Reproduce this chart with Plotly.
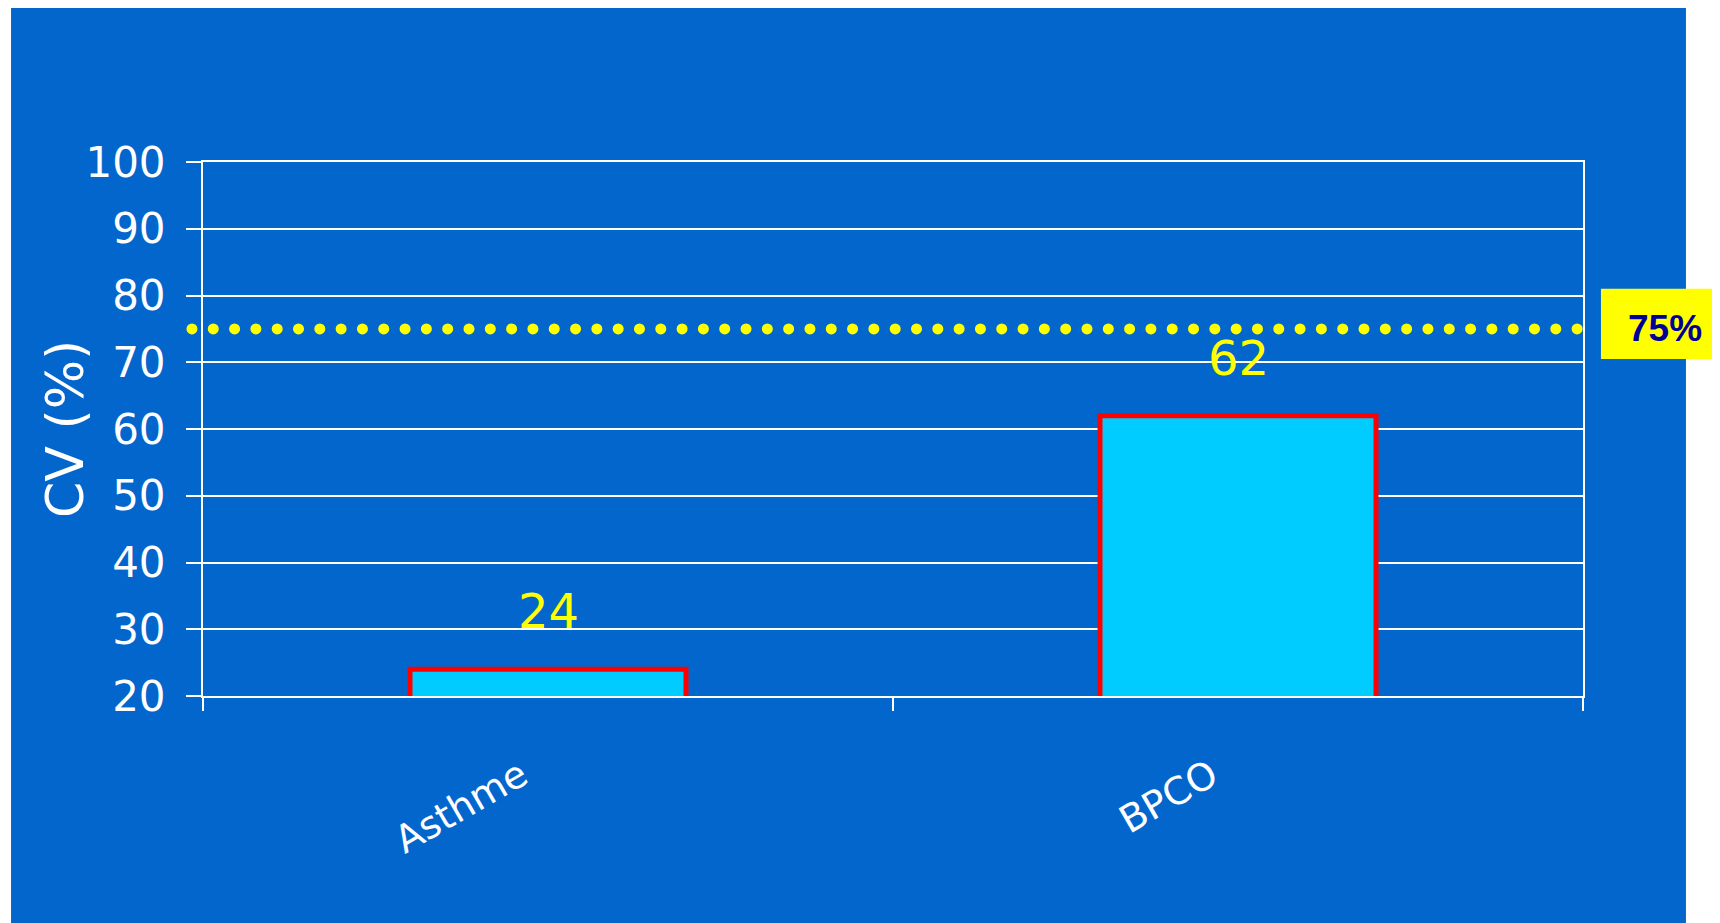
import plotly.graph_objects as go

categories = ["Asthme", "BPCO"]
cv_values = [24, 62]
y_ticks = [20, 30, 40, 50, 60, 70, 80, 90, 100]
threshold = 75
threshold_label = "75%"
y_title = "CV (%)"

BLUE = "#0366CC"
FONT = "DejaVu Sans"

fig = go.Figure()
fig.add_trace(go.Bar(
    x=categories, y=cv_values, base=0, width=0.4,
    marker=dict(color="#00CCFF", line=dict(color="#FF0000", width=5)),
    hoverinfo="skip", showlegend=False,
))

# value labels
for c, v in zip(categories, cv_values):
    fig.add_annotation(x=c, y=v, xref="x", yref="y", text=str(v), showarrow=False,
                       yanchor="bottom", yshift=28,
                       font=dict(family=FONT, size=48, color="#FFFF00"))

# blue background panel
fig.add_shape(type="rect", xref="paper", yref="paper", x0=-0.1391, x1=1.0746,
              y0=-0.6, y1=1.32, fillcolor=BLUE, line=dict(width=0), layer="below")

# threshold dotted line
fig.add_shape(type="line", xref="paper", yref="y", x0=-0.008, x1=1.0,
              y0=threshold, y1=threshold,
              line=dict(color="#FFFF00", width=11, dash="11px,10.3px"), layer="above")

# threshold label box
fig.add_shape(type="rect", xref="paper", yref="y", x0=1.013, x1=1.3, y0=70.5, y1=81,
              fillcolor="#FFFF00", line=dict(width=0), layer="above")
fig.add_annotation(x=1.0594, y=threshold, xref="paper", yref="y", text=threshold_label,
                   showarrow=False, xanchor="center", yanchor="middle",
                   font=dict(family="Liberation Sans", size=37, color="#000099", weight="bold"))

# y title
fig.add_annotation(x=-0.1, y=0.5, xref="paper", yref="paper", text=y_title,
                   showarrow=False, textangle=-90, xanchor="center", yanchor="middle",
                   font=dict(family=FONT, size=52, color="white"))

fig.update_layout(
    width=1712, height=915,
    margin=dict(l=195, r=137, t=154, b=227, pad=0),
    paper_bgcolor="white", plot_bgcolor=BLUE,
    bargap=0.6,
    xaxis=dict(
        type="category", showgrid=False, showline=True, linecolor="white", linewidth=2,
        mirror=True,
        tickvals=categories, ticktext=[c + "\u2002\u00a0" for c in categories],
        ticks="outside", tickson="boundaries", ticklen=13, tickcolor="white", tickwidth=2,
        tickangle=-30, tickfont=dict(family=FONT, size=38, color="white"),
        ticklabelstandoff=25,
    ),
    yaxis=dict(
        range=[20, 100], tickvals=y_ticks, showgrid=True, gridcolor="white", gridwidth=2,
        showline=True, linecolor="white", linewidth=2, mirror=True,
        ticks="outside", ticklen=15, tickcolor="white", tickwidth=2,
        tickfont=dict(family=FONT, size=42, color="white"),
        ticklabelstandoff=12, zeroline=False,
    ),
)

post = """
document.querySelectorAll('.shapelayer path').forEach(function(p){
  var d = p.style.strokeDasharray;
  if (d && d !== 'none' && d.indexOf('10.3') >= 0) {
    p.style.strokeDasharray = '0.01px 21.3px';
    p.style.strokeLinecap = 'round';
  }
});
"""
fig.write_html("out.html", post_script=post)
